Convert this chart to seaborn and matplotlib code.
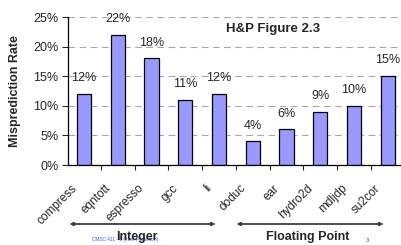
import numpy as np
import pandas as pd
import seaborn as sns
import matplotlib.pyplot as plt
import matplotlib.transforms as mtransforms
from matplotlib.ticker import FixedLocator, PercentFormatter

benchmarks = ["compress", "eqntott", "espresso", "gcc", "li",
              "doduc", "ear", "hydro2d", "mdljdp", "su2cor"]
rates = [12, 22, 18, 11, 12, 4, 6, 9, 10, 15]
y_ticks = [0, 5, 10, 15, 20, 25]

data = pd.DataFrame({"benchmark": benchmarks, "rate": rates})

sns.set_style("white")
plt.rcParams["font.family"] = ["Liberation Sans", "DejaVu Sans"]

fig = plt.figure(figsize=(4.01, 2.45), dpi=100)
ax = fig.add_axes([68 / 401, 1 - 165 / 245, 1 - 68 / 401, 148 / 245])

sns.barplot(data=data, x="benchmark", y="rate", color="#9999FF",
            edgecolor="black", linewidth=0.9, width=0.42, saturation=1, ax=ax)

for i, v in enumerate(rates):
    ax.annotate(f"{v}%", (i, v), xytext=(0, 7), textcoords="offset points",
                ha="center", va="bottom", fontsize=9)

ax.set_ylim(0, 25)
ax.set_xlim(-0.47, 9.39)
ax.set_yticks(y_ticks)
ax.yaxis.set_major_formatter(PercentFormatter(decimals=0))
ax.yaxis.grid(True, linestyle=(0, (6, 4)), color="#a8a8a8", linewidth=0.8)
ax.set_axisbelow(True)
for s in ["top", "right"]:
    ax.spines[s].set_visible(False)
for s in ["left", "bottom"]:
    ax.spines[s].set_color("black")
    ax.spines[s].set_linewidth(0.9)

ax.tick_params(axis="y", which="major", left=True, length=4.5, width=0.8,
               labelsize=9, pad=2.5)
ax.tick_params(axis="x", which="major", bottom=False, labelsize=8.5, pad=12)
ax.xaxis.set_minor_locator(FixedLocator(np.arange(0.5, 10, 1)))
ax.tick_params(axis="x", which="minor", bottom=True, length=3.6, width=0.8)
ax.set_xlabel("")
ax.set_ylabel("Misprediction Rate", fontsize=9, fontweight="bold")
ax.yaxis.set_label_coords(-47 / 333, 0.5)
shift = mtransforms.ScaledTranslation(-9 / 100, 0, fig.dpi_scale_trans)
for lbl in ax.get_xticklabels():
    lbl.set_rotation(45)
    lbl.set_ha("right")
    lbl.set_va("center")
    lbl.set_rotation_mode("anchor")
    lbl.set_transform(lbl.get_transform() + shift)

fig.text(273 / 401, 1 - 29 / 245, "H&P Figure 2.3", ha="center", va="center",
         fontsize=9.5, fontweight="bold")

arrow = dict(arrowstyle="<|-|>", color="#404040", lw=1.0, mutation_scale=5)
fig.add_artist(plt.annotate("", xy=(67 / 401, 1 - 224 / 245),
                            xytext=(218 / 401, 1 - 224 / 245),
                            xycoords="figure fraction", arrowprops=arrow))
fig.add_artist(plt.annotate("", xy=(234 / 401, 1 - 224 / 245),
                            xytext=(386 / 401, 1 - 224 / 245),
                            xycoords="figure fraction", arrowprops=arrow))

fig.text(125 / 401, 1 - 239 / 245, "CMSC 411 - 6 (from Patterson)", ha="center",
         va="center", fontsize=3.4, color="#3355ff")
fig.text(137 / 401, 1 - 237 / 245, "Integer", ha="center", va="center",
         fontsize=9, fontweight="bold")
fig.text(308 / 401, 1 - 237 / 245, "Floating Point", ha="center", va="center",
         fontsize=9, fontweight="bold")
fig.text(368 / 401, 1 - 240 / 245, "3", ha="center", va="center",
         fontsize=4.5, color="#22cc22", fontweight="bold")

fig.savefig("out.png", dpi=100)
